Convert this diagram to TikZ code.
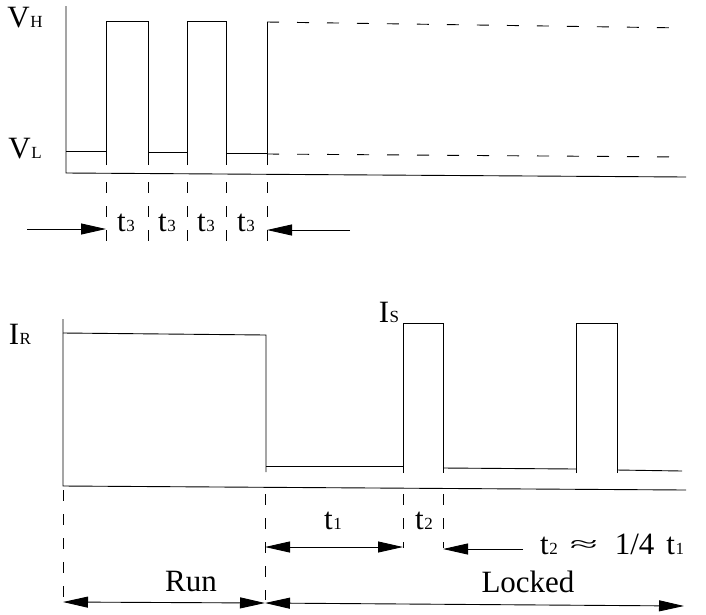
\documentclass[tikz,border=0pt]{standalone}
\usepackage{fontspec}
\setmainfont{Liberation Serif}
\usetikzlibrary{arrows.meta}
\newcommand\sublab[2]{#1\kern0.5pt{\fontsize{17}{17}\selectfont #2}}
\begin{document}
\begin{tikzpicture}[x=1pt,y=-1pt,
  wave/.style={line width=0.9pt},
  dsh/.style={line width=0.9pt, dash pattern=on 12pt off 18pt},
  vdsh/.style={line width=0.9pt, dash pattern=on 11pt off 13pt},
  dim/.style={line width=0.9pt,-{Triangle[length=25pt,width=11pt]}},
  ddim/.style={line width=0.9pt,{Triangle[length=25pt,width=11pt]}-{Triangle[length=25pt,width=11pt]}},
  lbl/.style={inner sep=0pt, font=\fontsize{31}{31}\selectfont}]
\useasboundingbox (0,0) rectangle (706,614);

% ---------- top chart ----------
\draw[wave] (66,6) -- (66,173) -- (686,177);
\draw[wave] (66,151) -- (106,151);
\draw[wave] (106,165) -- (106,21) -- (148,21) -- (148,165);
\draw[wave] (148,152) -- (187,152);
\draw[wave] (187,165) -- (187,21) -- (226,21) -- (226,165);
\draw[wave] (226,153) -- (267,153);
\draw[wave] (267,165) -- (267,22);
\draw[dsh] (267,22) -- (686,28);
\draw[dsh] (267,154) -- (686,157);
\foreach \x in {106,148,187,226,267}
  \draw[vdsh] (\x,182) -- (\x,252);

\node[lbl] (vh) at (25,18) {\sublab{V}{H}};
\node[lbl] (vl) at (25,149) {\sublab{V}{L}};
\node[lbl,anchor=base] (ta) at (126,231) {\sublab{t}{3}};
\node[lbl,anchor=base] (tb) at (167,231) {\sublab{t}{3}};
\node[lbl,anchor=base] (tc) at (206,231) {\sublab{t}{3}};
\node[lbl,anchor=base] (td) at (246,231) {\sublab{t}{3}};

\coordinate (al) at (27,229);
\coordinate (ar) at (106,229);
\coordinate (bl) at (350,230);
\coordinate (br) at (267,230);
\draw[dim] (al) -- (ar);
\draw[dim] (bl) -- (br);

% ---------- bottom chart ----------
\draw[wave] (63,319) -- (63,486) -- (686,490);
\draw[wave] (63,333) -- (266,335) -- (266,472);
\draw[wave] (266,466) -- (403,466);
\draw[wave] (403,473) -- (403,323) -- (443,323) -- (443,473);
\draw[wave] (443,468) -- (576,469);
\draw[wave] (576,473) -- (576,323) -- (617,323) -- (617,473);
\draw[wave] (617,470) -- (682,471);

\draw[vdsh] (63,490) -- (63,600);
\draw[vdsh] (265,494) -- (265,600);
\draw[vdsh] (403,494) -- (403,548);
\draw[vdsh] (443,494) -- (443,548);

\node[lbl] (ir) at (20,334) {\sublab{I}{R}};
\node[lbl] (is) at (389,312) {\sublab{I}{S}};
\node[lbl,anchor=base] (t1) at (333,529) {\sublab{t}{1}};
\node[lbl,anchor=base] (t2) at (424,529) {\sublab{t}{2}};
\node[lbl,anchor=base west] (rel) at (540,554) {\sublab{t}{2}\kern12pt\raisebox{3pt}{\resizebox{28pt}{11pt}{≈}}\kern17pt 1/4\kern12pt\sublab{t}{1}};
\node[lbl,anchor=base] (run) at (191,591) {Run};
\node[lbl,anchor=base] (lock) at (528,592) {Locked};

\coordinate (c1) at (265,547);
\coordinate (c2) at (403,547);
\coordinate (c3) at (523,549);
\coordinate (c4) at (443,549);
\draw[ddim] (c1) -- (c2);
\draw[dim] (c3) -- (c4);

\coordinate (d1) at (63,602);
\coordinate (d2) at (265,603);
\coordinate (d3) at (684,606);
\draw[ddim] (d1) -- (d2);
\draw[ddim] (d2) -- (d3);
\end{tikzpicture}
\end{document}
